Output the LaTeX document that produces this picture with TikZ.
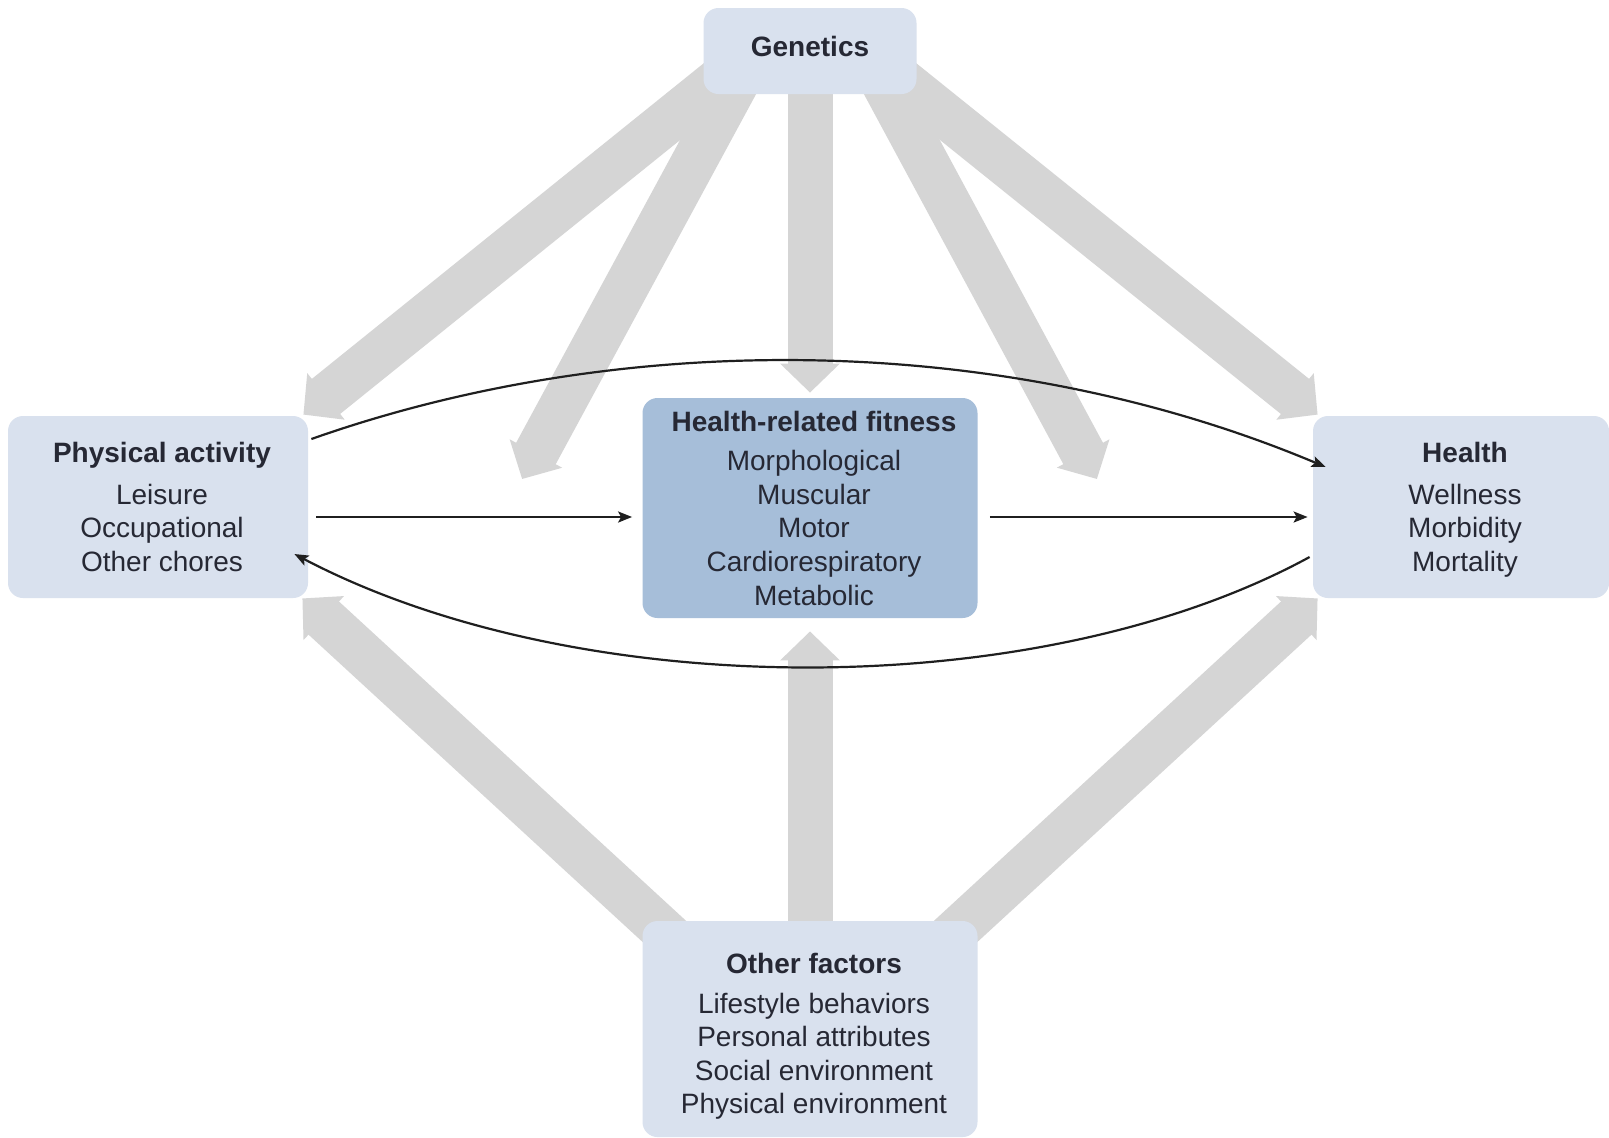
\documentclass[tikz,border=0pt]{standalone}
\usepackage{fontspec}
\setmainfont{Liberation Sans}
\usetikzlibrary{arrows.meta,backgrounds}
\definecolor{boxlight}{RGB}{217,225,238}
\definecolor{boxdark}{RGB}{166,190,217}
\definecolor{garrow}{RGB}{213,213,213}
\definecolor{txt}{RGB}{38,40,52}
\newcommand\rl{\hspace*{4pt}}
\begin{document}
\begin{tikzpicture}[x=0.5pt,y=-0.5pt,
  box/.style={rectangle, rounded corners=7.5pt, fill=boxlight, draw=none, align=center,
    text=txt, font=\fontsize{14}{16.8}\selectfont, inner sep=0pt},
  grayarrow/.style={draw=garrow, line width=22.5pt, -{Triangle[width=29pt,length=14.5pt]}},
  blackarrow/.style={draw=black!88, line width=1.1pt, -{Stealth[length=7pt,width=5.5pt,inset=1.5pt]}}]
\useasboundingbox (0,0) rectangle (1609,1137);

\node[box, minimum width=106.5pt, minimum height=43pt] (gen) at (810,51) {\textbf{Genetics}\rule[-5pt]{0pt}{5pt}};
\node[box, minimum width=150pt, minimum height=91pt] (pa) at (158,507)
  {\rl\textbf{Physical activity}\\[4pt] \rl Leisure\\ \rl Occupational\\ \rl Other chores};
\node[box, fill=boxdark, minimum width=167.5pt, minimum height=110pt] (hrf) at (810,508)
  {\rl\textbf{Health-related fitness}\rule[-1pt]{0pt}{7pt}\\[3pt] \rl Morphological\\ \rl Muscular\\ \rl Motor\\ \rl Cardiorespiratory\\ \rl Metabolic};
\node[box, minimum width=148pt, minimum height=91pt] (hl) at (1461,507)
  {\rl\textbf{Health}\rule{0pt}{13pt}\\[4pt] \rl Wellness\\ \rl Morbidity\\ \rl Mortality};
\node[box, minimum width=167.5pt, minimum height=108pt] (of) at (810,1029)
  {\rl\textbf{Other factors}\rule{0pt}{17.5pt}\\[3pt] \rl Lifestyle behaviors\\ \rl Personal attributes\\ \rl Social environment\\ \rl Physical environment};

\begin{scope}[on background layer]
  \fill[white] (0,0) rectangle (1609,1137);
  \draw[grayarrow] ([shift={(-85,24)}]gen.center) -- ([shift={(-5,-1)}]pa.north east);
  \draw[grayarrow] ([shift={(-67,20)}]gen.center) -- ([shift={(-120,-29)}]hrf.west);
  \draw[grayarrow] (gen.center) -- ([shift={(0,-5)}]hrf.north);
  \draw[grayarrow] ([shift={(67,20)}]gen.center) -- ([shift={(119,-29)}]hrf.east);
  \draw[grayarrow] ([shift={(85,24)}]gen.center) -- ([shift={(5,-1)}]hl.north west);
  \draw[grayarrow] ([shift={(-120,-74)}]of.center) -- ([shift={(-6,0)}]pa.south east);
  \draw[grayarrow] ([shift={(0,-60)}]of.center) -- ([shift={(0,13)}]hrf.south);
  \draw[grayarrow] ([shift={(120,-74)}]of.center) -- ([shift={(5,0)}]hl.south west);
\end{scope}

\draw[blackarrow] ([shift={(8,10)}]pa.east) -- ([shift={(-10,9)}]hrf.west);
\draw[blackarrow] ([shift={(12,9)}]hrf.east) -- ([shift={(-5,10)}]hl.west);
\draw[blackarrow] ([shift={(3,-68)}]pa.east) .. controls (620,330) and (1000,330) .. ([shift={(13,-40)}]hl.west);
\draw[blackarrow] ([shift={(-3,50)}]hl.west) .. controls (1040,704) and (580,704) .. ([shift={(-14,47)}]pa.east);
\end{tikzpicture}
\end{document}
